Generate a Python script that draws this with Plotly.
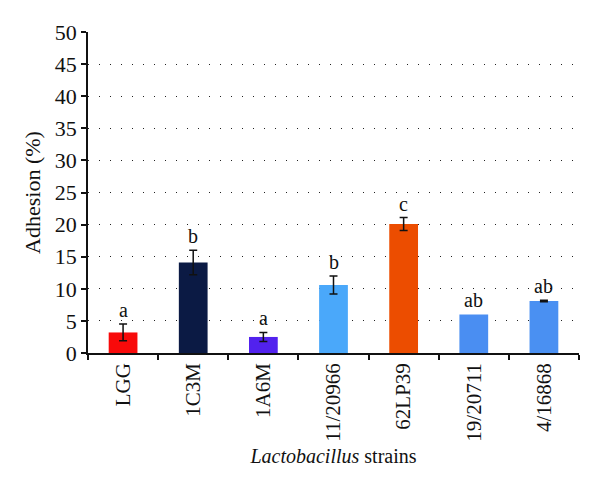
import plotly.graph_objects as go

strains = ["LGG", "1C3M", "1A6M", "11/20966", "62LP39", "19/20711", "4/16868"]
adhesion = [3.2, 14.1, 2.5, 10.6, 20.1, 6.0, 8.1]
errors = [1.3, 1.9, 0.7, 1.4, 1.0, 0.0, 0.1]
letters = ["a", "b", "a", "b", "c", "ab", "ab"]
colors = ["#f80a0a", "#0b1a44", "#5222ee", "#4aa8fa", "#ec4d00", "#4a8ef2", "#4a90f2"]
y_ticks = [0, 5, 10, 15, 20, 25, 30, 35, 40, 45, 50]

FONT = "Liberation Serif"

fig = go.Figure()
fig.add_trace(go.Bar(
    x=strains, y=adhesion,
    marker=dict(color=colors, line=dict(width=0)),
    width=0.41,
))
# error bars only where an error is shown
err_idx = [i for i, e in enumerate(errors) if e > 0]
fig.add_trace(go.Scatter(
    x=[strains[i] for i in err_idx], y=[adhesion[i] for i in err_idx],
    mode="markers", marker=dict(size=1, opacity=0),
    error_y=dict(type="data", array=[errors[i] for i in err_idx], visible=True,
                 color="#111111", thickness=1.5, width=4),
    hoverinfo="skip",
))

for s, v, e, t in zip(strains, adhesion, errors, letters):
    fig.add_annotation(x=s, y=v + e, text=t, showarrow=False,
                       yanchor="bottom", yshift=1,
                       font=dict(family=FONT, size=20, color="#111111"))

# page body has an 8px margin, so the figure is sized to fit the window
fig.update_layout(
    width=592, height=483,
    margin=dict(l=80, r=21, t=24, b=138),
    plot_bgcolor="white", paper_bgcolor="white",
    showlegend=False,
    bargap=0.59,
    font=dict(family=FONT, color="#111111"),
)
fig.update_xaxes(
    type="category",
    automargin=False,
    tickson="boundaries",
    ticks="outside", ticklen=5, tickwidth=1.5, tickcolor="#111111",
    showline=True, linecolor="#111111", linewidth=1.5,
    tickangle=-90,
    tickfont=dict(family=FONT, size=21, color="#111111"),
    showgrid=False,
    title=dict(text="<i>Lactobacillus</i> strains",
               font=dict(family=FONT, size=20, color="#111111"), standoff=8),
)
fig.update_yaxes(
    range=[0, 50], tickvals=y_ticks,
    automargin=False,
    ticks="outside", ticklen=5, tickwidth=1.5, tickcolor="#111111",
    showline=True, linecolor="#111111", linewidth=1.5,
    tickfont=dict(family=FONT, size=22, color="#111111"),
    showgrid=True, gridcolor="#222222", gridwidth=1.2, griddash="1px,10px",
    zeroline=False,
    title=dict(text="Adhesion (%)",
               font=dict(family=FONT, size=22, color="#111111"), standoff=8),
)

fig.write_html("out.html")
